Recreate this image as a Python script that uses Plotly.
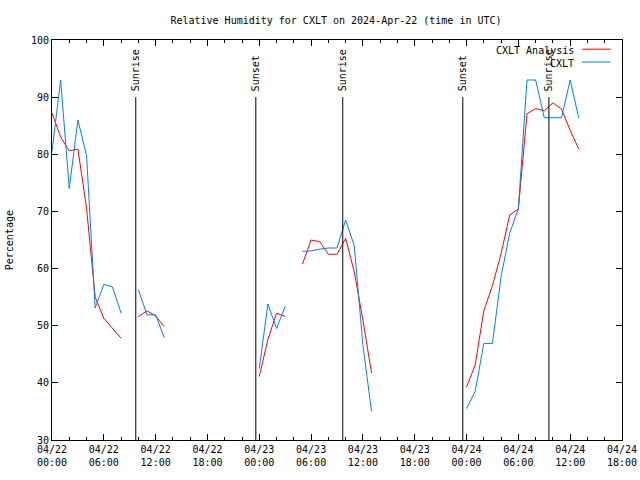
import pandas as pd
import plotly.graph_objects as go

# hourly values starting 2024-04-22 00:00 UTC (None = missing)
analysis = [87.2, 83.0, 80.6, 80.9, 70.6, 55.0, 51.3, 49.6, 47.8,
            None,
            51.6, 52.6, 51.7, 49.8,
            None, None, None, None, None, None, None, None, None, None,
            41.1, 47.6, 52.2, 51.6,
            None,
            60.8, 65.0, 64.7, 62.5, 62.5, 65.3, 59.4, 51.0, 41.7,
            None, None, None, None, None, None, None, None, None, None,
            39.3, 43.1, 52.6, 57.0, 62.6, 69.4, 70.4, 87.1, 88.0, 87.6, 89.0, 87.9, 84.2, 80.9]
cxlt = [80.5, 93.0, 74.0, 86.0, 79.8, 53.1, 57.2, 56.8, 52.2,
        None,
        56.3, 51.9, 51.9, 47.9,
        None, None, None, None, None, None, None, None, None, None,
        42.5, 53.8, 49.5, 53.4,
        None,
        63.0, 63.1, 63.4, 63.6, 63.6, 68.5, 64.0, 46.6, 35.0,
        None, None, None, None, None, None, None, None, None, None,
        35.5, 38.5, 46.9, 46.9, 58.6, 66.2, 70.5, 93.0, 93.0, 86.4, 86.4, 86.4, 93.0, 86.3]
times = pd.date_range("2024-04-22 00:00", periods=len(analysis), freq="h")

sun_times = ["2024-04-22 09:42", "2024-04-22 23:36", "2024-04-23 09:40",
             "2024-04-23 23:34", "2024-04-24 09:32"]
sun_labels = ["Sunrise", "Sunset", "Sunrise", "Sunset", "Sunrise"]

FONT = "DejaVu Sans Mono"

fig = go.Figure()
fig.add_trace(go.Scatter(x=times, y=analysis, mode="lines", name="CXLT Analysis",
                         line=dict(color="#ff0000", width=1), connectgaps=False,
                         showlegend=False))
fig.add_trace(go.Scatter(x=times, y=cxlt, mode="lines", name="CXLT",
                         line=dict(color="#0080ff", width=1), connectgaps=False,
                         showlegend=False))

shapes = []
annotations = []
for t, lab in zip(sun_times, sun_labels):
    shapes.append(dict(type="line", xref="x", yref="y", x0=t, x1=t, y0=30, y1=90,
                       line=dict(color="black", width=1)))
    annotations.append(dict(x=t, y=90.8, xref="x", yref="y", text=lab, textangle=-90,
                            showarrow=False, xanchor="center", yanchor="bottom",
                            borderpad=0, font=dict(family=FONT, size=10, color="black")))

# legend (gnuplot style: text then line sample)
leg = [("CXLT Analysis", "#ff0000", 0.974), ("CXLT", "#0080ff", 0.942)]
for name, col, yp in leg:
    annotations.append(dict(x=0.918, y=yp, xref="paper", yref="paper", text=name,
                            showarrow=False, xanchor="right", yanchor="middle",
                            borderpad=0, font=dict(family=FONT, size=10, color="black")))
    shapes.append(dict(type="line", xref="paper", yref="paper", x0=0.93, x1=0.98,
                       y0=yp + 0.003, y1=yp + 0.003, line=dict(color=col, width=1)))

# y-axis title
annotations.append(dict(x=-0.075, y=0.5, xref="paper", yref="paper", text="Percentage",
                        textangle=-90, showarrow=False, xanchor="center", yanchor="middle",
                        font=dict(family=FONT, size=10, color="black")))

fig.update_layout(
    width=640, height=480,
    margin=dict(l=52, r=18, t=40, b=40, autoexpand=False),
    paper_bgcolor="white", plot_bgcolor="white",
    title=dict(text="Relative Humidity for CXLT on 2024-Apr-22 (time in UTC)",
               x=0.525, xanchor="center", y=0.958, yanchor="middle",
               font=dict(family=FONT, size=10, color="black")),
    font=dict(family=FONT, size=10, color="black"),
    shapes=shapes, annotations=annotations,
    showlegend=False,
)
fig.update_xaxes(
    type="date", range=["2024-04-22 00:00", "2024-04-24 18:00"],
    tick0="2024-04-22 00:00", dtick=6 * 3600 * 1000,
    tickformat="%m/%d<br>%H:%M", automargin=False,
    ticks="inside", ticklen=6, tickcolor="black",
    minor=dict(dtick=2 * 3600 * 1000, ticks="inside", ticklen=3, tickcolor="black",
               showgrid=False),
    showgrid=False, zeroline=False, showline=True, linecolor="black", linewidth=1,
    mirror="allticks", tickfont=dict(family=FONT, size=10, color="black"),
)
fig.update_yaxes(
    range=[30, 100], dtick=10, tick0=30, automargin=False,
    ticks="inside", ticklen=6, tickcolor="black",
    showgrid=False, zeroline=False, showline=True, linecolor="black", linewidth=1,
    mirror="allticks", tickfont=dict(family=FONT, size=10, color="black"),
)

fig.write_html("out.html", config={"displayModeBar": False},
               post_script="document.body.style.margin='0px';")
